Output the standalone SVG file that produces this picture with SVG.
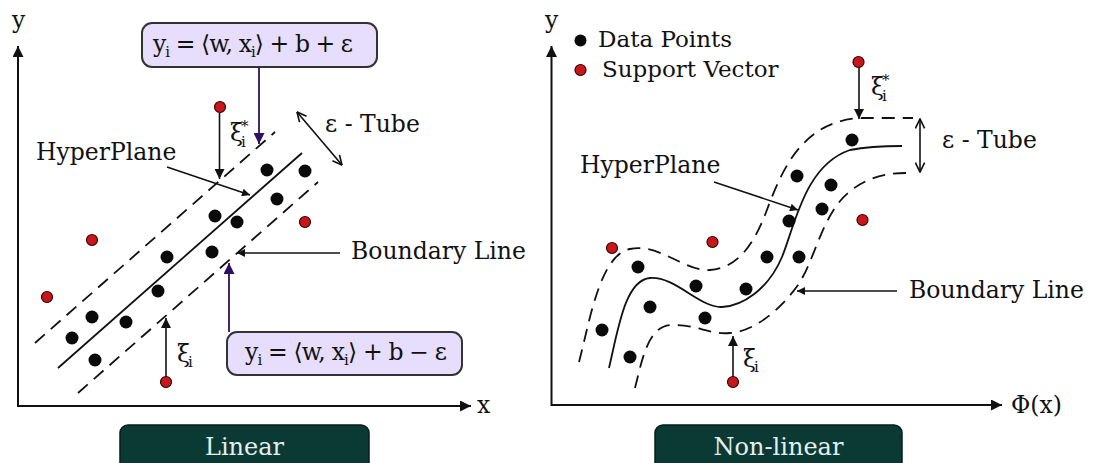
<svg xmlns="http://www.w3.org/2000/svg" width="1094" height="463" viewBox="0 0 1094 463">
<style>
text{font-family:"DejaVu Serif","Liberation Serif",serif;fill:#111}
.t{font-size:23.5px}
.lg{font-size:23px}
.sub{font-size:15px}
.ax{stroke:#111;stroke-width:2;fill:none}
.ln{stroke:#111;stroke-width:1.8;fill:none}
.dash{stroke:#111;stroke-width:1.8;fill:none;stroke-dasharray:13 8}
.con{stroke:#111;stroke-width:1.6;fill:none}
.pcon{stroke:#2d1160;stroke-width:1.8;fill:none}
.dp{fill:#0a0a0a}
.sv{fill:#c8161d;stroke:#3a0000;stroke-width:1.2}
.eq{fill:#e6defc;stroke:#333;stroke-width:2}
.lab{fill:#0b3a35;stroke:#061e1b;stroke-width:1.5}
.labt{font-size:24px;fill:#e4efec}
</style>
<defs>
<marker id="axh" viewBox="0 0 10 10" refX="10" refY="5" markerWidth="16" markerHeight="11" markerUnits="userSpaceOnUse" orient="auto"><path d="M0,0 L10,5 L0,10 z" fill="#111"/></marker>
<marker id="ah" viewBox="0 0 10 10" refX="10" refY="5" markerWidth="13" markerHeight="10" markerUnits="userSpaceOnUse" orient="auto"><path d="M0,0 L10,5 L0,10 z" fill="#111"/></marker>
<marker id="ahs" viewBox="0 0 10 10" refX="10" refY="5" markerWidth="13" markerHeight="8" markerUnits="userSpaceOnUse" orient="auto"><path d="M0,0 L10,5 L0,10 z" fill="#111"/></marker>
<marker id="ph" viewBox="0 0 10 10" refX="10" refY="5" markerWidth="13" markerHeight="11" markerUnits="userSpaceOnUse" orient="auto"><path d="M0,0 L10,5 L0,10 z" fill="#2d1160"/></marker>
<marker id="oh" viewBox="0 0 10 10" refX="9.5" refY="5" markerWidth="11" markerHeight="11" markerUnits="userSpaceOnUse" orient="auto-start-reverse"><path d="M1,0.8 L9.5,5 L1,9.2" fill="none" stroke="#111" stroke-width="1.5"/></marker>
</defs>
<rect width="1094" height="463" fill="#ffffff"/>

<g id="linear-panel">
  <g id="axes-left">
    <line class="ax" x1="18" y1="407" x2="18" y2="46" marker-end="url(#axh)"/>
    <line class="ax" x1="17" y1="406" x2="471" y2="406" marker-end="url(#axh)"/>
    <text class="t" x="12" y="28">y</text>
    <text class="t" x="477" y="413">x</text>
  </g>
  <g id="tube-left">
    <line class="dash" x1="35" y1="343" x2="275" y2="132"/>
    <line class="ln" x1="58" y1="368" x2="302" y2="153"/>
    <line class="dash" x1="78" y1="393" x2="318" y2="182"/>
  </g>
  <g id="points-left">
    <circle class="dp" cx="267" cy="170" r="6.5"/>
    <circle class="dp" cx="305" cy="171" r="6.5"/>
    <circle class="dp" cx="277" cy="199" r="6.5"/>
    <circle class="dp" cx="215" cy="216" r="6.5"/>
    <circle class="dp" cx="237" cy="222" r="6.5"/>
    <circle class="dp" cx="167" cy="257" r="6.5"/>
    <circle class="dp" cx="212" cy="252" r="6.5"/>
    <circle class="dp" cx="158" cy="291" r="6.5"/>
    <circle class="dp" cx="92" cy="317" r="6.5"/>
    <circle class="dp" cx="126" cy="322" r="6.5"/>
    <circle class="dp" cx="72" cy="338" r="6.5"/>
    <circle class="dp" cx="95" cy="360" r="6.5"/>
    <circle class="sv" cx="220" cy="107" r="5.5"/>
    <circle class="sv" cx="92" cy="240" r="5.5"/>
    <circle class="sv" cx="305" cy="222" r="5.5"/>
    <circle class="sv" cx="47" cy="297" r="5.5"/>
    <circle class="sv" cx="166" cy="382" r="5.5"/>
  </g>
  <g id="eq-top">
    <rect class="eq" x="142" y="23" width="235" height="44" rx="10"/>
    <text class="t" x="153" y="52" textLength="200" lengthAdjust="spacing">y<tspan class="sub" dy="5">i</tspan><tspan dy="-5"> = ⟨w, x</tspan><tspan class="sub" dy="5">i</tspan><tspan dy="-5">⟩ + b + ε</tspan></text>
  </g>
  <g id="eq-bottom">
    <rect class="eq" x="227" y="332" width="235" height="43" rx="10"/>
    <text class="t" x="245" y="360" textLength="202" lengthAdjust="spacing">y<tspan class="sub" dy="5">i</tspan><tspan dy="-5"> = ⟨w, x</tspan><tspan class="sub" dy="5">i</tspan><tspan dy="-5">⟩ + b − ε</tspan></text>
  </g>
  <g id="labels-left">
    <text class="t" x="36" y="160">HyperPlane</text>
    <text class="t" x="325" y="132">ε - Tube</text>
    <text class="t" x="351" y="259">Boundary Line</text>
    <text class="t" x="230" y="141">ξ</text>
    <text class="sub" x="241" y="147">i</text>
    <text class="sub" x="241" y="131">*</text>
    <text class="t" x="177" y="362">ξ</text>
    <text class="sub" x="188" y="367">i</text>
  </g>
  <g id="title-linear">
    <rect class="lab" x="120" y="425" width="249" height="46" rx="8"/>
    <text class="labt" x="244.5" y="455" text-anchor="middle">Linear</text>
  </g>
</g>

<g id="nonlinear-panel">
  <g id="axes-right">
    <line class="ax" x1="551.5" y1="406" x2="551.5" y2="46" marker-end="url(#axh)"/>
    <line class="ax" x1="551" y1="405" x2="1002" y2="405" marker-end="url(#axh)"/>
    <text class="t" x="545" y="28">y</text>
    <text class="t" x="1011" y="413">Φ(x)</text>
  </g>
  <g id="legend">
    <circle class="dp" cx="580.5" cy="40.5" r="6"/>
    <text class="lg" x="598" y="47">Data Points</text>
    <circle class="sv" cx="580.5" cy="70" r="5.5"/>
    <text class="lg" x="602" y="77">Support Vector</text>
  </g>
  <g id="tube-right">
    <path class="dash" d="M579,362 C590,320 600,255 630,249 C660,243 685,272 710,270 C740,268 755,240 765,215 C780,175 800,120 862,118 L913,118"/>
    <path class="ln" d="M609,368 C618,330 625,280 650,278 C675,276 700,308 722,307 C742,306 768,290 782,257 C795,225 805,165 850,150 C870,146 890,146 902,146"/>
    <path class="dash" d="M635,388 C642,360 648,326 671,325 C695,324 710,335 730,333 C755,331 780,310 798,285 C815,260 822,215 848,193 C865,178 885,173 906,173"/>
  </g>
  <g id="points-right">
    <circle class="dp" cx="852" cy="140" r="6.5"/>
    <circle class="dp" cx="797" cy="176" r="6.5"/>
    <circle class="dp" cx="831" cy="185" r="6.5"/>
    <circle class="dp" cx="822" cy="209" r="6.5"/>
    <circle class="dp" cx="789" cy="221" r="6.5"/>
    <circle class="dp" cx="767" cy="257" r="6.5"/>
    <circle class="dp" cx="799" cy="257" r="6.5"/>
    <circle class="dp" cx="696" cy="286" r="6.5"/>
    <circle class="dp" cx="746" cy="289" r="6.5"/>
    <circle class="dp" cx="638" cy="267" r="6.5"/>
    <circle class="dp" cx="650" cy="307" r="6.5"/>
    <circle class="dp" cx="705" cy="318" r="6.5"/>
    <circle class="dp" cx="602" cy="330" r="6.5"/>
    <circle class="dp" cx="630" cy="357" r="6.5"/>
    <circle class="sv" cx="858.5" cy="62" r="5.5"/>
    <circle class="sv" cx="862.5" cy="220" r="5.5"/>
    <circle class="sv" cx="712.5" cy="242" r="5.5"/>
    <circle class="sv" cx="612" cy="248" r="5.5"/>
    <circle class="sv" cx="733" cy="382" r="5.5"/>
  </g>
  <g id="labels-right">
    <text class="t" x="580" y="173">HyperPlane</text>
    <text class="t" x="942" y="148">ε - Tube</text>
    <text class="t" x="909" y="298">Boundary Line</text>
    <text class="t" x="871" y="95">ξ</text>
    <text class="sub" x="882" y="101">i</text>
    <text class="sub" x="882" y="85">*</text>
    <text class="t" x="743" y="367">ξ</text>
    <text class="sub" x="754" y="372">i</text>
  </g>
  <g id="title-nonlinear">
    <rect class="lab" x="655" y="425" width="247" height="46" rx="8"/>
    <text class="labt" x="778.5" y="455" text-anchor="middle">Non-linear</text>
  </g>
</g>

<g id="connectors">
  <line class="con" x1="219.5" y1="113" x2="219.5" y2="179" marker-end="url(#ah)"/>
  <line class="pcon" x1="259" y1="67" x2="259" y2="144" marker-end="url(#ph)"/>
  <line class="con" x1="167" y1="167" x2="250" y2="195" marker-end="url(#ahs)"/>
  <line class="con" x1="297" y1="112" x2="342" y2="165" marker-start="url(#oh)" marker-end="url(#oh)"/>
  <line class="con" x1="340" y1="253" x2="237" y2="253" marker-end="url(#ahs)"/>
  <line class="pcon" x1="229" y1="332" x2="229" y2="263" marker-end="url(#ph)"/>
  <line class="con" x1="166" y1="377" x2="166" y2="318" marker-end="url(#ah)"/>
  <line class="con" x1="859" y1="67" x2="859" y2="119" marker-end="url(#ah)"/>
  <line class="con" x1="920" y1="119" x2="920" y2="172" marker-start="url(#oh)" marker-end="url(#oh)"/>
  <line class="con" x1="714" y1="182" x2="798" y2="210" marker-end="url(#ahs)"/>
  <line class="con" x1="897" y1="291" x2="797" y2="291" marker-end="url(#ahs)"/>
  <line class="con" x1="733" y1="377" x2="733" y2="336" marker-end="url(#ah)"/>
</g>
</svg>
